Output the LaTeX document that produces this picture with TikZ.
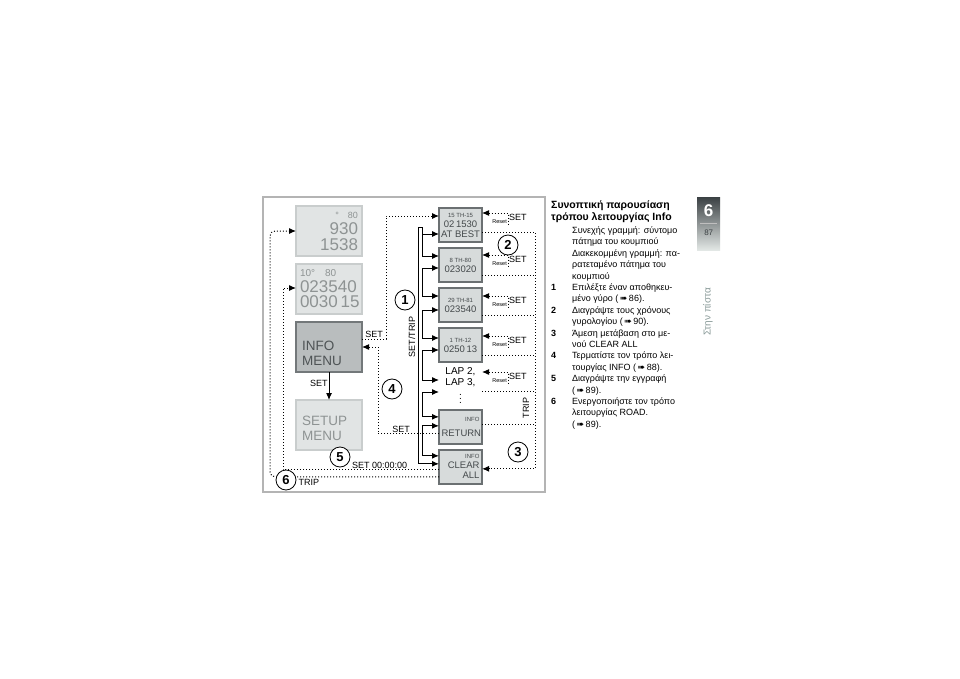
\documentclass[tikz,border=0pt]{standalone}
\usepackage{fontspec}
\setmainfont{Liberation Sans}
\newfontfamily\arrowfont{DejaVu Sans}
\usetikzlibrary{arrows.meta,positioning}
\definecolor{Frame}{HTML}{B4B4B4}
\definecolor{ScreenFill}{HTML}{E1E4E4}
\definecolor{ScreenEdge}{HTML}{C9CDCD}
\definecolor{ScreenText}{HTML}{8E9393}
\definecolor{MenuFill}{HTML}{B9BDBE}
\definecolor{MenuEdge}{HTML}{73787A}
\definecolor{MenuText}{HTML}{4E5355}
\definecolor{MiniFill}{HTML}{D7DBDB}
\definecolor{MiniEdge}{HTML}{6B7072}
\definecolor{MiniText}{HTML}{44494B}
\definecolor{TabDark}{HTML}{3B4144}
\definecolor{TabLight}{HTML}{E3E8E6}
\definecolor{RunHead}{HTML}{8A9B99}
\newcommand{\seep}[1]{(\,{\arrowfont ➠}\,#1)}
\newcommand{\lcdsmall}{\fontsize{6}{7}\selectfont}
\tikzset{
  screen/.style={
    draw=ScreenEdge,line width=2pt,fill=ScreenFill,outer sep=0pt,
    minimum width=66pt,minimum height=50pt,inner sep=2pt,
    text=ScreenText,anchor=north west
  },
  menutext/.style={align=left,text width=54pt,font=\fontsize{13.5}{15}\selectfont,text=ScreenText},
  mini/.style={
    draw=MiniEdge,line width=1.8pt,fill=MiniFill,outer sep=0pt,
    minimum width=43pt,minimum height=34pt,inner sep=2pt,
    text=MiniText,align=center,font=\fontsize{9.5}{10}\selectfont
  },
  num/.style={circle,draw,thick,fill=white,minimum size=20pt,inner sep=0pt,font=\bfseries\fontsize{13}{13}\selectfont},
  key/.style={inner sep=1pt,font=\fontsize{9}{10}\selectfont},
  resetlbl/.style={inner sep=0pt,font=\fontsize{5.5}{6}\selectfont},
  press/.style={line width=1pt},
  hold/.style={line width=1pt,dotted}
}
\begin{document}
\begin{tikzpicture}[x=1pt,y=-1pt,>={Latex[length=7pt,width=6pt]}]
  \fill[white] (0,0) rectangle (960,679);
  \useasboundingbox (0,0) rectangle (960,679);
  \draw[Frame,line width=1.2pt] (263,197) rectangle (545,492);

  \node[screen,align=right,text width=58pt,font=\fontsize{17}{16}\selectfont] (dispA) at (296,206)
    {{\fontsize{9}{9}\selectfont\textdegree\hspace{9pt}80\hspace{18pt}}\\930\\1538};
  \node[screen,below=8pt of dispA,align=left,text width=58pt,font=\fontsize{17}{15.5}\selectfont] (dispB)
    {{\fontsize{10}{10}\selectfont 10\textdegree\hspace{10pt}80}\\023540\\0030\,15};
  \node[screen,below=8pt of dispB,draw=MenuEdge,fill=MenuFill] (infomenu) {};
  \node[menutext,text=MenuText,yshift=-6pt] (infotext) at (infomenu) {INFO\\MENU};
  \node[screen,below=28pt of infomenu] (setup) {};
  \node[menutext,yshift=-3pt] (setuptext) at (setup) {SETUP\\MENU};

  \node[mini,anchor=north west] (d1) at (439,208) {{\lcdsmall 15 TH-15}\\02\,1530\\AT BEST};
  \node[mini,below=6pt of d1] (d2) {{\lcdsmall 8 TH-80}\\023020};
  \node[mini,below=6pt of d2] (d3) {{\lcdsmall 29 TH-81}\\023540};
  \node[mini,below=6pt of d3] (d4) {{\lcdsmall 1 TH-12}\\0250\,13};
  \node[mini,below=6pt of d4,draw=none,fill=none,inner sep=0pt,text=black,font=\fontsize{10}{10.5}\selectfont] (lap)
    {LAP 2,\\LAP 3,\\[1pt]$\vdots$};
  \node[mini,below=6pt of lap,align=right,text width=38pt] (dret) {{\lcdsmall INFO}\\[5pt]RETURN};
  \node[mini,below=6pt of dret,align=right,text width=38pt] (dclr) {{\lcdsmall INFO}\\CLEAR\\ALL};

  \foreach \a/\ya/\b/\yb in {d1/26/d2/8,d2/20/d3/8,d3/22/d4/10,d4/22/lap/12,lap/24/dret/7,dret/16/dclr/6}
    \draw[press,<->] ([yshift=-\ya pt]\a.north west) -- ++(-17,0) |- ([yshift=-\yb pt]\b.north west);
  \draw[press,<-] ([yshift=-14pt]dclr.north west) -- ++(-21,0) |- ++(4,-236) -- ++(0,8);
  \node[key,rotate=90] (settrip) at (412,337) {SET/TRIP};

  \draw[press,->] (infomenu) -- node[key,left,pos=0.4] (setdown) {SET} (setup);
  \draw[hold,->] ([yshift=-17pt]infomenu.north east) -- node[key,above] (setinfo) {SET} ++(24,0)
    |- ([yshift=-8pt]d1.north west);
  \draw[hold,->] ([yshift=-24pt]dret.north west) -- node[key,above,pos=0.62] (setret) {SET} ++(-61,0)
    |- ([yshift=-25pt]infomenu.north east);
  \draw[hold,->] ([yshift=-20pt]dclr.north west) -- node[key,above,pos=0.38] (setclr) {SET 00:00:00} ++(-156,0)
    |- ([yshift=-24pt]dispB.north west);
  \draw[hold,->,rounded corners=5pt] ([yshift=-27pt]dclr.north west) -- ++(-169,0)
    |- ([yshift=-25pt]dispA.north west);

  \foreach \n/\y in {d1/5,d2/7,d3/8,d4/8,lap/4}{
    \draw[hold,<-] ([yshift=-\y pt]\n.north east) -- ++(26,0) coordinate (r\n) -- ++(0,11);
    \node[key,anchor=west] (set\n) at ([yshift=-4pt]r\n) {SET};
    \node[resetlbl,anchor=east] (reset\n) at ([shift={(-1pt,-9pt)}]r\n) {Reset};
  }
  \draw[hold,->] ([yshift=-24pt]d1.north east) -- ++(53,0) |- ([yshift=-19pt]dclr.north east);
  \foreach \n/\y in {d2/27,d3/27,d4/27,lap/23,dret/15}
    \draw[hold] ([yshift=-\y pt]\n.north east) -- ++(53,0);
  \node[key,rotate=90] (tripright) at (526,408) {TRIP};

  \node[num] (c1) at (405,300) {1};
  \node[num] (c2) at (508,245) {2};
  \node[num] (c3) at (518,452) {3};
  \node[num] (c4) at (392,389) {4};
  \node[num] (c5) at (340,457) {5};
  \node[num] (c6) at (286,480) {6};
  \node[key,anchor=west] (tripleft) at ([shift={(1pt,-2pt)}]c6.east) {TRIP};

  \node[anchor=north west,inner sep=0pt,align=left,font=\bfseries\fontsize{10.5}{12}\selectfont] (title) at (551,201)
    {Συνοπτική παρουσίαση\\τρόπου λειτουργίας Info};
  \node[below=2pt of title.south west,anchor=north west,inner sep=0pt,font=\fontsize{9}{11.4}\selectfont] (legend) {%
    \begin{tabular}{@{}p{21pt}@{}l@{}}
      & Συνεχής γραμμή: σύντομο\\
      & πάτημα του κουμπιού\\
      & Διακεκομμένη γραμμή: πα-\\
      & ρατεταμένο πάτημα του\\
      & κουμπιού\\
      \textbf{1} & Επιλέξτε έναν αποθηκευ-\\
      & μένο γύρο \seep{86}.\\
      \textbf{2} & Διαγράψτε τους χρόνους\\
      & γυρολογίου \seep{90}.\\
      \textbf{3} & Άμεση μετάβαση στο με-\\
      & νού CLEAR ALL\\
      \textbf{4} & Τερματίστε τον τρόπο λει-\\
      & τουργίας INFO \seep{88}.\\
      \textbf{5} & Διαγράψτε την εγγραφή\\
      & \seep{89}.\\
      \textbf{6} & Ενεργοποιήστε τον τρόπο\\
      & λειτουργίας ROAD.\\
      & \seep{89}.
    \end{tabular}};

  \node[anchor=north west,minimum width=23pt,minimum height=53pt,inner sep=0pt,top color=TabDark,bottom color=TabLight] (tab) at (697,197) {};
  \node[text=white,font=\bfseries\fontsize{17}{17}\selectfont] (chapter) at ([yshift=-14pt]tab.north) {6};
  \draw[white!75!black,line width=1pt] ([shift={(3pt,-26pt)}]tab.north west) -- ([shift={(-3pt,-26pt)}]tab.north east);
  \node[text=TabDark,font=\fontsize{8}{8}\selectfont] (page) at ([yshift=-36pt]tab.north) {87};
  \node[rotate=90,text=RunHead,font=\fontsize{10}{10}\selectfont] (runhead) at (708,312) {Στην πίστα};
\end{tikzpicture}
\end{document}
